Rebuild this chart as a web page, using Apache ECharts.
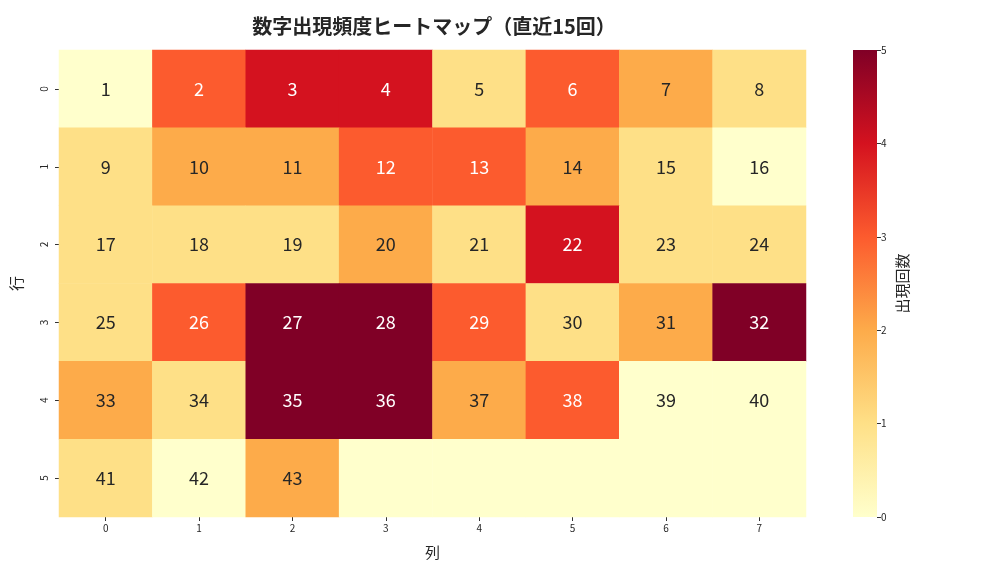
<!DOCTYPE html>
<html>
<head>
<meta charset="utf-8">
<script src="https://cdn.jsdelivr.net/npm/echarts@6/dist/echarts.min.js"></script>
<style>
html,body{margin:0;padding:0;background:#fff;}
#chart{width:1008px;height:576px;}
</style>
</head>
<body>
<div id="chart"></div>
<script>
// ---- data ----
const colLabels = ['0','1','2','3','4','5','6','7'];
const rowLabels = ['0','1','2','3','4','5'];
const counts = [
  [0,3,4,4,1,3,2,1],
  [1,2,2,3,3,2,1,0],
  [1,1,1,2,1,4,1,1],
  [1,3,5,5,3,1,2,5],
  [2,1,5,5,2,3,0,0],
  [1,0,2,0,0,0,0,0]
];
const cellLabels = [
  ['1','2','3','4','5','6','7','8'],
  ['9','10','11','12','13','14','15','16'],
  ['17','18','19','20','21','22','23','24'],
  ['25','26','27','28','29','30','31','32'],
  ['33','34','35','36','37','38','39','40'],
  ['41','42','43','','','','','']
];
const colorbarTicks = [0,1,2,3,4,5];
const palette = ['#ffffcc','#fee087','#fdab4a','#fc5b2e','#d4121f','#800026'];

const FONT = '"Noto Sans CJK JP", "DejaVu Sans", sans-serif';

const data = [];
for (let r = 0; r < rowLabels.length; r++) {
  for (let c = 0; c < colLabels.length; c++) {
    const v = counts[r][c];
    data.push({
      value: [c, r, v],
      name: cellLabels[r][c],
      label: { color: v >= 3 ? '#ffffff' : '#262626' }
    });
  }
}

const chart = echarts.init(document.getElementById('chart'), null, {renderer: 'canvas'});
chart.setOption({
  backgroundColor: '#ffffff',
  animation: false,
  title: {
    text: '数字出現頻度ヒートマップ（直近15回）',
    left: 429, top: 11, textAlign: 'center',
    textStyle: { fontFamily: FONT, fontSize: 20, fontWeight: 'bold', color: '#262626' }
  },
  grid: [
    { left: 59, top: 50, width: 747, height: 467 },
    { left: 853, top: 50, width: 24, height: 467 }
  ],
  xAxis: [
    {
      gridIndex: 0, type: 'category', data: colLabels, position: 'bottom',
      axisLine: { show: false },
      axisTick: { show: true, alignWithLabel: true, length: 4, lineStyle: { color: '#333' } },
      axisLabel: { fontFamily: FONT, fontSize: 10, color: '#262626', margin: 6 },
      splitLine: { show: false },
      name: '列', nameLocation: 'middle', nameGap: 28,
      nameTextStyle: { fontFamily: FONT, fontSize: 15, color: '#262626' }
    },
    {
      gridIndex: 1, type: 'category', data: ['cb'], show: false
    }
  ],
  yAxis: [
    {
      gridIndex: 0, type: 'category', data: rowLabels, inverse: true,
      axisLine: { show: false },
      axisTick: { show: true, alignWithLabel: true, length: 4, lineStyle: { color: '#333' } },
      axisLabel: { fontFamily: FONT, fontSize: 10, color: '#262626', rotate: 90, margin: 10 },
      splitLine: { show: false },
      name: '行', nameLocation: 'middle', nameGap: 35, nameRotate: 90,
      nameTextStyle: { fontFamily: FONT, fontSize: 15, color: '#262626' }
    },
    {
      gridIndex: 1, type: 'value', min: 0, max: 5, interval: 1, position: 'right',
      axisLine: { show: false },
      axisTick: { show: true, length: 4, lineStyle: { color: '#333' } },
      axisLabel: { fontFamily: FONT, fontSize: 10, color: '#262626', margin: 4 },
      splitLine: { show: false },
      name: '出現回数', nameLocation: 'middle', nameGap: 18, nameRotate: 90,
      nameTextStyle: { fontFamily: FONT, fontSize: 15, color: '#262626' }
    }
  ],
  visualMap: {
    type: 'piecewise', show: false, seriesIndex: 0, dimension: 2,
    pieces: palette.map((col, i) => ({ value: i, color: col }))
  },
  series: [
    {
      type: 'heatmap', xAxisIndex: 0, yAxisIndex: 0,
      data: data,
      itemStyle: { borderWidth: 0 },
      label: {
        show: true, fontFamily: FONT, fontSize: 18, fontWeight: 'normal',
        formatter: p => p.name
      },
      emphasis: { disabled: true }
    },
    {
      type: 'bar', xAxisIndex: 1, yAxisIndex: 1,
      data: [colorbarTicks[colorbarTicks.length - 1]],
      barWidth: '100%',
      silent: true,
      itemStyle: {
        color: new echarts.graphic.LinearGradient(0, 1, 0, 0,
          palette.map((col, i) => ({ offset: i / (palette.length - 1), color: col })))
      }
    }
  ]
});
</script>
</body>
</html>
